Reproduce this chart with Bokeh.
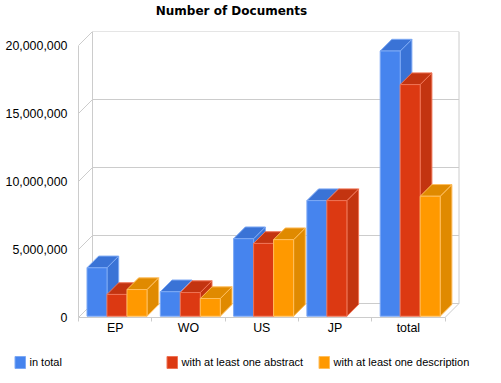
from bokeh.plotting import figure
from bokeh.embed import file_html
from bokeh.resources import INLINE
from bokeh.models import Range1d, FixedTicker, NumeralTickFormatter, Label

categories = ["EP", "WO", "US", "JP", "total"]
in_total = [3560000, 1800000, 5700000, 8500000, 19500000]
with_abstract = [1600000, 1740000, 5350000, 8500000, 17030000]
with_description = [1960000, 1300000, 5630000, 0, 8820000]
series_names = ["in total", "with at least one abstract", "with at least one description"]
y_ticks = [0, 5000000, 10000000, 15000000, 20000000]

front = ["#4684EE", "#DC3912", "#FF9900"]
dark = ["#3A73D6", "#C33410", "#E08A00"]
edge = ["#7DA9F4", "#EE7355", "#FFBE5C"]
GRID = "#CCCCCC"

PX_X = 73.3          # pixels per category
PX_Y = 13.6 / 1e6    # pixels per value unit
WALL = 14            # wall depth, px
DEPTH = 11.7         # bar depth, px
INSET = 1.3          # bar offset from the front plane, px
BAR = 20             # bar width, px
PAD = 8.5            # group padding, px

FL, FR, FT, FB = 78, 460, 31, 317
W, H = 500, 382

p = figure(width=W, height=H, output_backend="svg", toolbar_location=None,
           x_range=Range1d(0, (FR - FL) / PX_X), y_range=Range1d(0, (FB - FT) / PX_Y),
           min_border_left=FL, min_border_right=W - FR,
           min_border_top=FT, min_border_bottom=H - FB, outline_line_color=None)
p.grid.visible = False

n = len(categories)
dxw, dyw = WALL / PX_X, WALL / PX_Y
dx, dy = DEPTH / PX_X, DEPTH / PX_Y
ix, iy = INSET / PX_X, INSET / PX_Y

# walls
p.segment([dxw] * 5, [t + dyw for t in y_ticks], [n + dxw] * 5, [t + dyw for t in y_ticks], line_color=GRID)
p.segment([0] * 5, y_ticks, [dxw] * 5, [t + dyw for t in y_ticks], line_color=GRID)
p.segment([dxw, n + dxw, n], [dyw, y_ticks[-1] + dyw, 0], [dxw, n + dxw, n + dxw], [y_ticks[-1] + dyw, dyw, dyw], line_color=GRID)

# bars
for s, vals in enumerate([in_total, with_abstract, with_description]):
    lefts = [i + (PAD + s * BAR) / PX_X for i in range(n)]
    rights = [l + BAR / PX_X for l in lefts]
    tops = [v + iy for v in vals]
    shown = [k for k, v in enumerate(vals) if v > 0]
    xs_side = [[rights[k], rights[k] + dx, rights[k] + dx, rights[k]] for k in shown]
    ys_side = [[iy, iy + dy, tops[k] + dy, tops[k]] for k in shown]
    xs_top = [[lefts[k], lefts[k] + dx, rights[k] + dx, rights[k]] for k in shown]
    ys_top = [[tops[k], tops[k] + dy, tops[k] + dy, tops[k]] for k in shown]
    p.patches(xs_side, ys_side, fill_color=dark[s], line_color=edge[s], line_width=1)
    p.patches(xs_top, ys_top, fill_color=dark[s], line_color=edge[s], line_width=1)
    p.quad(left=[lefts[k] for k in shown], right=[rights[k] for k in shown], bottom=iy,
           top=[tops[k] for k in shown], fill_color=front[s], line_color=edge[s], line_width=1)

# axes
xa = p.xaxis[0]
xa.ticker = FixedTicker(ticks=[i + 0.5 for i in range(n)], minor_ticks=list(range(n + 1)))
xa.major_label_overrides = {i + 0.5: c for i, c in enumerate(categories)}
xa.bounds = (0, n)
xa.major_tick_line_color = None
xa.minor_tick_line_color = GRID
xa.minor_tick_out = 4
xa.minor_tick_in = 0
xa.axis_line_color = GRID
xa.major_label_text_font = "Liberation Sans"
xa.major_label_text_font_size = "12.4px"
xa.major_label_text_color = "#000000"
xa.major_label_standoff = -3

ya = p.yaxis[0]
ya.ticker = FixedTicker(ticks=y_ticks)
ya.formatter = NumeralTickFormatter(format="0,0")
ya.bounds = (0, y_ticks[-1])
ya.major_tick_line_color = None
ya.minor_tick_line_color = None
ya.axis_line_color = GRID
ya.major_label_text_font = "Liberation Sans"
ya.major_label_text_font_size = "12.4px"
ya.major_label_text_color = "#000000"
ya.major_label_standoff = 5

# title
p.add_layout(Label(x=231, y=10, x_units="canvas", y_units="canvas", text="Number of Documents",
                   text_font="DejaVu Sans", text_font_style="bold", text_font_size="12px",
                   text_align="center", text_baseline="middle", text_color="#000000"), "above")

# legend
for s, (name, x) in enumerate(zip(series_names, [29, 181, 333])):
    p.add_layout(Label(x=x, y=361, x_units="canvas", y_units="canvas", text=name,
                       text_font="Liberation Sans", text_font_size="11px",
                       text_baseline="middle", text_color="#000000"), "below")
    # swatch: background of an empty label, side panel has spare room
    p.add_layout(Label(x=x - 14.5, y=356, x_units="canvas", y_units="canvas", text="\u00a0", text_font_size="9px",
                       padding=(4, 1), background_fill_color=front[s], border_line_color=edge[s],
                       text_baseline="top"), "right")

open("out.html", "w").write(file_html(p, INLINE))
